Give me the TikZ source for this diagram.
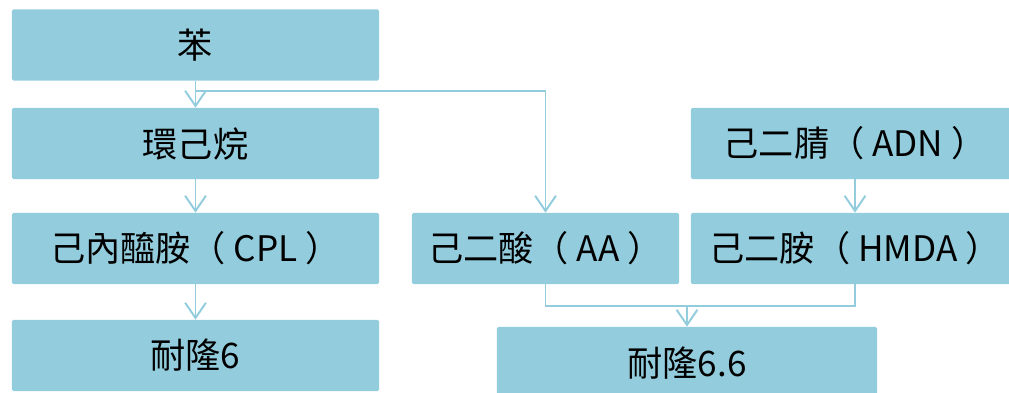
\documentclass[tikz,border=0pt]{standalone}
\usepackage{fontspec}
\setmainfont{Noto Sans CJK TC}
\usetikzlibrary{arrows.meta}
\definecolor{caixa}{HTML}{93CDDD}

\begin{document}
\begin{tikzpicture}[x=0.025cm, y=-0.025cm,
    bloco/.style={fill=caixa, rounded corners=1pt, inner sep=0pt,
        minimum height=1.775cm, font=\fontsize{25}{29}\selectfont},
    linha/.style={draw=caixa, line width=1.4pt},
    seta/.style={linha, -{Straight Barb[length=0.38cm, width=0.52cm]}}]
    \useasboundingbox (0,0) rectangle (1009,393);
    % Caixas
    \node[bloco, minimum width=9.175cm] (benzeno) at (195.5,45) {苯};
    \node[bloco, minimum width=9.175cm] (ciclo) at (195.5,143.5) {環己烷};
    \node[bloco, minimum width=9.175cm] (cpl) at (195.5,248.5) {己內醯胺（ CPL ）};
    \node[bloco, minimum width=9.175cm] (nylon6) at (195.5,355.5) {耐隆6};
    \node[bloco, minimum width=6.675cm] (aa) at (545.5,248.5) {己二酸（ AA ）};
    \node[bloco, minimum width=8.2cm] (adn) at (855,143.5) {己二腈（ ADN ）};
    \node[bloco, minimum width=8.2cm] (hmda) at (855,248.5) {己二胺（ HMDA ）};
    \node[bloco, minimum width=9.5cm, minimum height=1.8cm] (nylon66) at (687,363) {耐隆6.6};
    % Setas
    \draw[seta] (benzeno) -- (ciclo);
    \draw[seta] (benzeno.south) -- ++(0,10) -| (aa.north);
    \draw[seta] (ciclo) -- (cpl);
    \draw[seta] (cpl) -- (nylon6);
    \draw[seta] (adn) -- (hmda);
    \draw[linha] (aa.south) -- ++(0,22) coordinate (juncao) -| (hmda.south);
    \draw[seta] (juncao -| nylon66.north) -- (nylon66.north);
\end{tikzpicture}
\end{document}
